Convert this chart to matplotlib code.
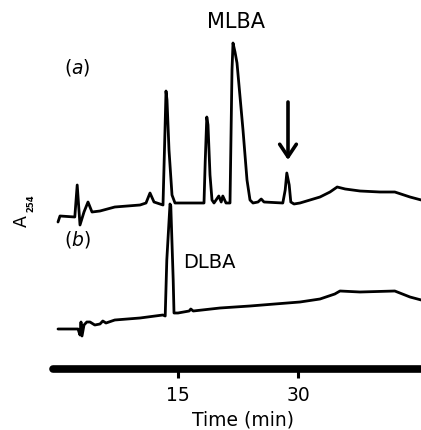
import matplotlib
matplotlib.use("Agg")
import matplotlib.pyplot as plt

# ---- data (time in min, signal in arbitrary absorbance units) ----
time_a = [0.0, 0.25, 2.1, 2.4, 2.75, 3.25, 3.75, 4.25, 5.25, 7.1, 10.25, 11.0, 11.5, 12.0,
          12.75, 13.125, 13.375, 13.5, 13.625, 13.875, 14.25, 14.625, 16.5, 18.25, 18.4,
          18.6, 18.75, 19.0, 19.25, 19.5, 20.1, 20.4, 20.6, 21.0, 21.5, 21.75, 21.875,
          22.125, 22.375, 23.125, 23.625, 24.0, 24.375, 25.0, 25.4, 25.75, 28.1, 28.4,
          28.6, 28.9, 29.1, 29.5, 30.25, 31.5, 32.75, 34.0, 34.9, 35.9, 37.75, 40.25,
          42.1, 44.0, 45.4]
signal_a = [-5, 1, 0, 32, -8, 5, 15, 5, 6, 10, 12, 14, 24, 15,
            13, 12, 87, 126, 117, 67, 22, 14, 14, 14, 55,
            100, 92, 42, 17, 14, 21, 15, 21, 14, 14, 147, 174,
            165, 154, 87, 37, 17, 14, 15, 18, 15, 14, 27,
            44, 32, 15, 13, 14, 17, 20, 25, 30, 28, 26, 25,
            25, 20, 17]

time_b = [0.0, 2.5, 2.75, 2.875, 3.0, 3.25, 3.6, 4.0, 4.6, 5.25, 5.6, 6.0, 7.1, 10.25,
          13.1, 13.4, 13.6, 14.0, 14.1, 14.4, 14.5, 15.0, 16.4, 16.6, 16.9, 20.25, 24.0,
          27.1, 30.25, 32.75, 34.6, 35.25, 37.75, 42.1, 44.0, 45.4]
signal_b = [0, 0, -6, 7, -7, 4, 7, 7, 4, 5, 8, 6, 9, 11,
            14, 13, 69, 125, 123, 49, 16, 16, 18, 20, 18, 21, 23,
            25, 27, 30, 35, 38, 37, 38, 32, 29]

offset_a = 213
offset_b = 101
axis_level = 61
tick_values = [15, 30]
tick_labels = ["15", "30"]

plt.rcParams['font.family'] = ['DejaVu Sans']
plt.rcParams['mathtext.fontset'] = 'dejavusans'

fig = plt.figure(figsize=(4.21, 4.30), dpi=100)
ax = fig.add_axes([0, 0, 1, 1])
ax.set_xlim(-7.25, 45.375)
ax.set_ylim(0, 430)

ax.plot(time_a, [offset_a + s for s in signal_a], color='black', lw=2.0,
        solid_joinstyle='round', solid_capstyle='round')
ax.plot(time_b, [offset_b + s for s in signal_b], color='black', lw=2.0,
        solid_joinstyle='round', solid_capstyle='round')

# axis
for side in ['top', 'right', 'left']:
    ax.spines[side].set_visible(False)
ax.spines['bottom'].set_position(('data', axis_level))
ax.spines['bottom'].set_bounds(-0.6, 45.4)
ax.spines['bottom'].set_linewidth(5.5)
ax.spines['bottom'].set_capstyle('round')
ax.set_xticks(tick_values)
ax.set_xticklabels(tick_labels)
ax.set_yticks([])
ax.tick_params(axis='x', direction='out', length=6.5, width=2.2, pad=6,
               labelsize=13.5)

# labels
fig.text(243/421, 1-420/430, "Time (min)", ha='center', va='center', fontsize=13.5)
fig.text(22/421, 1-221/430, "A", ha='center', va='center', fontsize=12.5, rotation=90)
fig.text(31/421, 1-203/430, "254", ha='center', va='center', fontsize=6,
         rotation=90, fontweight='bold')
ax.text(22.2, 430-22, "MLBA", ha='center', va='center', fontsize=15)
fig.text(77/421, 1-67/430, r"($\it{a}$)", ha='center', va='center', fontsize=13.5)
fig.text(77/421, 1-239/430, r"($\it{b}$)", ha='center', va='center', fontsize=13.5)
ax.text(18.9, 430-262, "DLBA", ha='center', va='center', fontsize=14)

# arrow
ax.annotate("", xy=(28.75, 430-160), xytext=(28.75, 430-102),
            arrowprops=dict(arrowstyle='->,head_length=0.45,head_width=0.3',
                            lw=2.6, color='black', mutation_scale=20,
                            shrinkA=0, shrinkB=0))

fig.savefig("out.png", dpi=100)
